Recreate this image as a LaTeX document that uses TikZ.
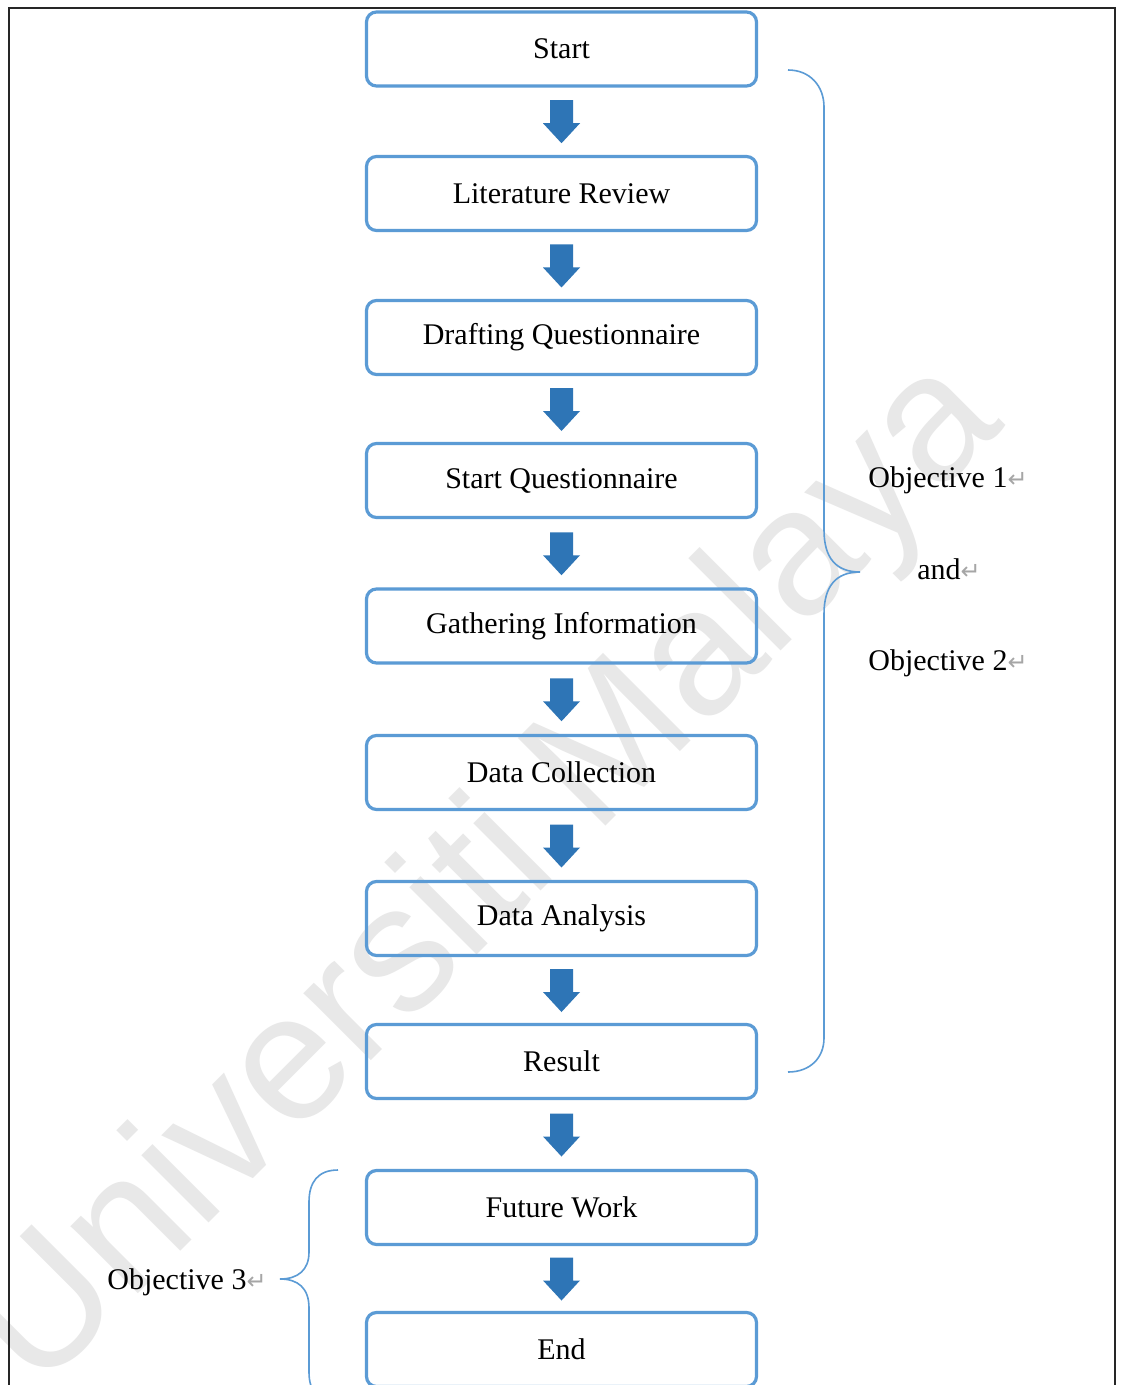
\documentclass[tikz,border=0pt]{standalone}
\usepackage{fontspec}
\setmainfont{Liberation Serif}
\newfontfamily\wmfont{Liberation Sans}
\newfontfamily\symfont{DejaVu Sans}
\usetikzlibrary{calc}
\definecolor{boxblue}{HTML}{5B9BD5}
\definecolor{arrowblue}{HTML}{2E75B6}
\definecolor{braceblue}{HTML}{5B9BD5}
\definecolor{wmgray}{HTML}{E8E8E8}
\definecolor{markgray}{HTML}{A6A6A6}
\newcommand{\pmark}{{\symfont\fontsize{12}{12}\selectfont\color{markgray}↵}}
\newcommand{\blockarrow}[2]{%
  \path ($(#1.south)!0.5!(#2.north)$) coordinate (m#1);
  \fill[arrowblue] ($(m#1)+(-11.5,-21)$) -- ($(m#1)+(11.5,-21)$) -- ($(m#1)+(11.5,2)$)
    -- ($(m#1)+(18.5,2)$) -- ($(m#1)+(0,22)$) -- ($(m#1)+(-18.5,2)$) -- ($(m#1)+(-11.5,2)$) -- cycle;}
\begin{document}
\begin{tikzpicture}[x=0.5pt,y=-0.5pt,
  stepbox/.style={draw=boxblue, line width=1.6pt, rounded corners=5pt,
    minimum width=195pt, minimum height=37pt, inner sep=0pt,
    font=\fontsize{15}{18}\selectfont},
  objtext/.style={anchor=base west, inner sep=0pt, font=\fontsize{15}{18}\selectfont},
  bracestyle/.style={draw=braceblue, line width=0.8pt},
  framestyle/.style={draw=black!85, line width=1pt},
  wmstyle/.style={anchor=base, rotate=45, inner sep=0pt, text=wmgray,
    font=\wmfont\fontsize{90}{90}\selectfont}]
\useasboundingbox (0,0) rectangle (1129,1385);
\clip (0,0) rectangle (1129,1385);
\fill[white] (0,0) rectangle (1129,1385);

% watermark
\node[wmstyle] (wm) at (522,910) {Universiti Malaya};

% frame
\draw[framestyle] (9,1395) -- (9,8) -- (1115,8) -- (1115,1395);

% boxes
\node[stepbox] (start)  at (561.5,49)     {Start};
\node[stepbox] (lit)    at (561.5,193.5)  {Literature Review};
\node[stepbox] (draft)  at (561.5,337.5)  {Drafting Questionnaire};
\node[stepbox] (sq)     at (561.5,480.5)  {Start Questionnaire};
\node[stepbox] (gather) at (561.5,626)    {Gathering Information};
\node[stepbox] (dc)     at (561.5,772.5)  {Data Collection};
\node[stepbox] (da)     at (561.5,918.5)  {Data Analysis};
\node[stepbox] (res)    at (561.5,1061.5) {Result};
\node[stepbox] (fw)     at (561.5,1207.5) {Future Work};
\node[stepbox] (fin)    at (561.5,1349.5) {End};

% arrows
\blockarrow{start}{lit}
\blockarrow{lit}{draft}
\blockarrow{draft}{sq}
\blockarrow{sq}{gather}
\blockarrow{gather}{dc}
\blockarrow{dc}{da}
\blockarrow{da}{res}
\blockarrow{res}{fw}
\blockarrow{fw}{fin}

% right brace
\draw[bracestyle] (788,70) .. controls (810,70) and (824,86) .. (824,107)
  -- (824,530) .. controls (824,558) and (836,572) .. (860,572)
  .. controls (836,572) and (824,586) .. (824,614)
  -- (824,1038) .. controls (824,1058) and (810,1072) .. (788,1072);

% left brace
\draw[bracestyle] (338,1170) .. controls (318,1170) and (309,1182) .. (309,1202)
  -- (309,1252) .. controls (309,1270) and (298,1279) .. (280,1279)
  .. controls (298,1279) and (309,1288) .. (309,1308)
  -- (309,1372) .. controls (309,1392) and (318,1400) .. (338,1400);

% objective labels
\node[objtext] (obj1) at (868,487)  {Objective 1\pmark};
\node[objtext] (and)  at (917,579)  {and\pmark};
\node[objtext] (obj2) at (868,670)  {Objective 2\pmark};
\node[objtext] (obj3) at (107,1289) {Objective 3\pmark};
\end{tikzpicture}
\end{document}
